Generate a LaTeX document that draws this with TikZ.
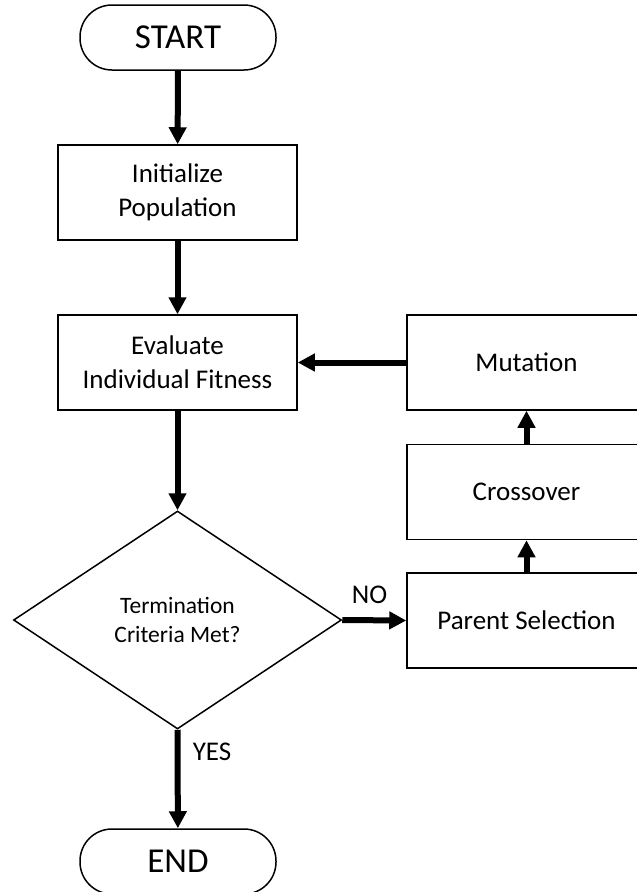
\documentclass[tikz,border=0pt]{standalone}
\usepackage{fontspec}
\setmainfont{Carlito}
\usetikzlibrary{shapes.geometric,arrows.meta}

\tikzset{
  terminal/.style={draw, line width=1.5pt, rounded corners=32pt, minimum width=196pt,
    minimum height=65pt, inner sep=0pt, font=\fontsize{35}{42}\selectfont},
  process/.style={draw, line width=1.5pt, minimum width=239pt, minimum height=95pt,
    inner sep=0pt, align=center, font=\fontsize{27}{34}\selectfont},
  decision/.style={draw, diamond, line width=1.5pt, minimum width=328pt, minimum height=218pt,
    inner sep=0pt, align=center, font=\fontsize{23.5}{29}\selectfont},
  flow/.style={line width=6pt, -{Triangle[length=17pt,width=17pt]}},
  tag/.style={font=\fontsize{27}{32}\selectfont, inner sep=0pt}
}

\begin{document}
\begin{tikzpicture}[x=1pt,y=-1pt]
  \useasboundingbox (0,0) rectangle (637,892);

  % main column
  \node[terminal] (start) at (178,37.5) {START};
  \node[process] (init) at (177.5,192.5) {Initialize\\Population};
  \node[process] (eval) at (177.5,362.5) {Evaluate\\Individual Fitness};
  \node[decision] (term) at (177.5,620) {Termination\\Criteria Met?};
  \node[terminal] (end) at (178,861.5) {END};

  % variation loop on the right
  \node[process] (mut) at (526.5,362.5) {Mutation};
  \node[process] (cross) at (526.5,492) {Crossover};
  \node[process] (parent) at (526.5,620.5) {Parent Selection};

  % connectors
  \draw[flow] (start) -- (init);
  \draw[flow] (init) -- (eval);
  \draw[flow] (eval) -- (term);
  \draw[flow] (term.south) -- (end);
  \draw[flow] (term.east) -- (parent.west);
  \draw[flow] (parent) -- (cross);
  \draw[flow] (cross) -- (mut);
  \draw[flow] (mut) -- (eval);

  % branch labels
  \node[tag] (no) at (369.5,595) {NO};
  \node[tag] (yes) at (212,752) {YES};
\end{tikzpicture}
\end{document}
